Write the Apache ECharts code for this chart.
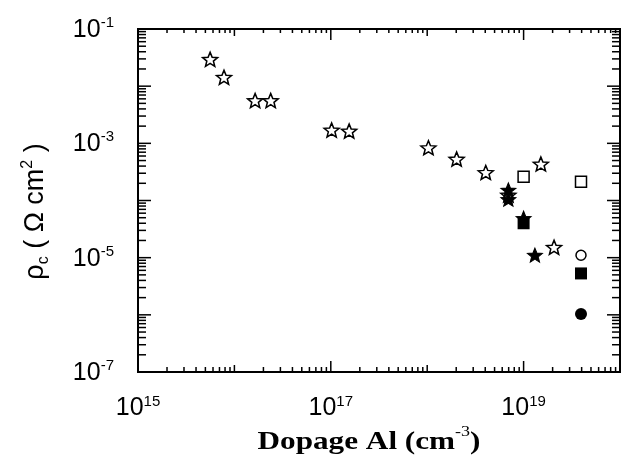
<!DOCTYPE html>
<html>
<head>
<meta charset="utf-8">
<script src="https://cdn.jsdelivr.net/npm/echarts@6/dist/echarts.min.js"></script>
<style>html,body{margin:0;padding:0;background:#fff;}#c{width:626px;height:463px;}</style>
</head>
<body>
<div id="c"></div>
<script>
// ---- data ----
var openStarX  = [5.6e15, 7.8e15, 1.64e16, 2.38e16, 1.02e17, 1.55e17, 1.03e18, 2.02e18, 4.05e18, 1.51e19, 2.07e19, 6.95e18];
var openStarY  = [2.95e-2, 1.43e-2, 5.6e-3, 5.6e-3, 1.71e-3, 1.64e-3, 8.4e-4, 5.3e-4, 3.1e-4, 4.35e-4, 1.52e-5, 1.25e-4];
var filledStarX = [6.95e18, 6.95e18, 1.0e19, 1.31e19];
var filledStarY = [1.53e-4, 1.05e-4, 4.9e-5, 1.11e-5];
var openSquareX = [1.0e19, 3.94e19];
var openSquareY = [2.6e-4, 2.13e-4];
var filledSquareX = [1.0e19, 3.94e19];
var filledSquareY = [4.0e-5, 5.3e-6];
var openCircleX = [3.94e19];
var openCircleY = [1.1e-5];
var filledCircleX = [3.94e19];
var filledCircleY = [1.03e-6];

// axis ranges / ticks
var xExpMin = 15, xExpMax = 20;
var yExpMin = -7, yExpMax = -1;
var minorMult = [2, 3, 4, 5, 6, 7, 8, 9];

function pairs(xs, ys) { return xs.map(function (x, i) { return [x, ys[i]]; }); }

var STAR = 'path://M50,0L62.93,32.2L97.55,34.55L70.92,56.8L79.39,90.45L50,72L20.61,90.45L29.08,56.8L2.45,34.55L37.07,32.2Z';

var xMin = Math.pow(10, xExpMin), xMax = Math.pow(10, xExpMax);
var yMin = Math.pow(10, yExpMin), yMax = Math.pow(10, yExpMax);

// tick lists: [value, length]
var xTicks = [], yTicks = [];
for (var e = xExpMin; e <= xExpMax; e++) {
  var base = Math.pow(10, e);
  xTicks.push([base, (Math.abs(e) % 2 === 1) ? 11 : 7]);
  if (e < xExpMax) minorMult.forEach(function (m) { xTicks.push([m * base, 5]); });
}
for (var f = yExpMin; f <= yExpMax; f++) {
  var b2 = Math.pow(10, f);
  yTicks.push([b2, 13]);
  if (f < yExpMax) minorMult.forEach(function (m) { yTicks.push([m * b2, 8]); });
}

var chart = echarts.init(document.getElementById('c'), null, { renderer: 'canvas' });

function expLabel(v) {
  var ex = Math.round(Math.log10(v));
  if (Math.abs(ex) % 2 !== 1) return '';
  return '{b|10}{s|' + ex + '}';
}
var labelRich = {
  b: { fontSize: 25, fontFamily: 'Liberation Sans', color: '#000', verticalAlign: 'bottom', lineHeight: 27 },
  s: { fontSize: 15, fontFamily: 'Liberation Sans', color: '#000', verticalAlign: 'top', lineHeight: 27 }
};

var option = {
  animation: false,
  backgroundColor: '#fff',
  grid: { left: 138, top: 29, width: 482, height: 343, show: true, borderColor: '#000', borderWidth: 2, backgroundColor: 'transparent' },
  xAxis: {
    type: 'log', logBase: 10, min: xMin, max: xMax, splitNumber: 5,
    axisLine: { show: false }, axisTick: { show: false }, splitLine: { show: false },
    axisLabel: { interval: 0, showMinLabel: true, showMaxLabel: true, margin: 22, formatter: expLabel, rich: labelRich }
  },
  yAxis: {
    type: 'log', logBase: 10, min: yMin, max: yMax, splitNumber: 6,
    axisLine: { show: false }, axisTick: { show: false }, splitLine: { show: false },
    axisLabel: { interval: 0, showMinLabel: true, showMaxLabel: true, margin: 24, formatter: expLabel, rich: labelRich },
    name: '{a|ρ}{c|c}{a| ( Ω cm}{p|2}{a| )}',
    nameLocation: 'middle', nameGap: 86, nameRotate: 90,
    nameTextStyle: {
      padding: [0, 22, 0, 0],
      rich: {
        a: { fontFamily: 'Liberation Sans', fontSize: 27, color: '#000', verticalAlign: 'middle', lineHeight: 32 },
        c: { fontFamily: 'Liberation Sans', fontSize: 16, color: '#000', verticalAlign: 'bottom', lineHeight: 32 },
        p: { fontFamily: 'Liberation Sans', fontSize: 16, color: '#000', verticalAlign: 'top', lineHeight: 32 }
      }
    }
  },
  graphic: [{
    type: 'text', x: 369, y: 440, scaleX: 1.2, silent: true,
    style: {
      text: '{t|Dopage Al (cm}{u|-3}{t|)}',
      align: 'center', verticalAlign: 'middle',
      rich: {
        t: { fontFamily: 'Liberation Serif', fontWeight: 'bold', fontSize: 26, fill: '#000', verticalAlign: 'bottom', lineHeight: 30 },
        u: { fontFamily: 'Liberation Serif', fontSize: 15, fill: '#000', verticalAlign: 'top', lineHeight: 30 }
      }
    }
  }],
  series: [
    {
      type: 'custom', name: 'xticks', silent: true, clip: false,
      data: xTicks,
      encode: { x: 0 },
      renderItem: function (params, api) {
        var v = api.value(0), len = api.value(1);
        var pb = api.coord([v, yMin]);
        var pt = api.coord([v, yMax]);
        var topLen = len >= 7 ? len : 4;
        return {
          type: 'group', children: [
            { type: 'line', shape: { x1: pb[0], y1: pb[1], x2: pb[0], y2: pb[1] - len }, style: { stroke: '#000', lineWidth: 1.5 } },
            { type: 'line', shape: { x1: pt[0], y1: pt[1], x2: pt[0], y2: pt[1] + topLen }, style: { stroke: '#000', lineWidth: 1.5 } }
          ]
        };
      }
    },
    {
      type: 'custom', name: 'yticks', silent: true, clip: false,
      data: yTicks,
      encode: { y: 0 },
      renderItem: function (params, api) {
        var v = api.value(0), len = api.value(1);
        var pl = api.coord([xMin, v]);
        var pr = api.coord([xMax, v]);
        return {
          type: 'group', children: [
            { type: 'line', shape: { x1: pl[0], y1: pl[1], x2: pl[0] + len, y2: pl[1] }, style: { stroke: '#000', lineWidth: 1.5 } },
            { type: 'line', shape: { x1: pr[0], y1: pr[1], x2: pr[0] - len, y2: pr[1] }, style: { stroke: '#000', lineWidth: 1.5 } }
          ]
        };
      }
    },
    { type: 'scatter', name: 'filledStar', data: pairs(filledStarX, filledStarY), symbol: STAR, symbolSize: [15, 14],
      itemStyle: { color: '#000', borderColor: '#000', borderWidth: 1, opacity: 1 } },
    { type: 'scatter', name: 'openStar', data: pairs(openStarX, openStarY), symbol: STAR, symbolSize: [15, 14],
      itemStyle: { color: 'rgba(255,255,255,0)', borderColor: '#000', borderWidth: 1.5, opacity: 1 } },
    { type: 'scatter', name: 'openSquare', data: pairs(openSquareX, openSquareY), symbol: 'rect', symbolSize: [11, 11],
      itemStyle: { color: '#fff', borderColor: '#000', borderWidth: 1.5, opacity: 1 } },
    { type: 'scatter', name: 'filledSquare', data: pairs(filledSquareX, filledSquareY), symbol: 'rect', symbolSize: [12, 12],
      itemStyle: { color: '#000', opacity: 1 } },
    { type: 'scatter', name: 'openCircle', data: pairs(openCircleX, openCircleY), symbol: 'circle', symbolSize: 10,
      itemStyle: { color: '#fff', borderColor: '#000', borderWidth: 1.5, opacity: 1 } },
    { type: 'scatter', name: 'filledCircle', data: pairs(filledCircleX, filledCircleY), symbol: 'circle', symbolSize: 12,
      itemStyle: { color: '#000', opacity: 1 } }
  ]
};
chart.setOption(option);
</script>
</body>
</html>
